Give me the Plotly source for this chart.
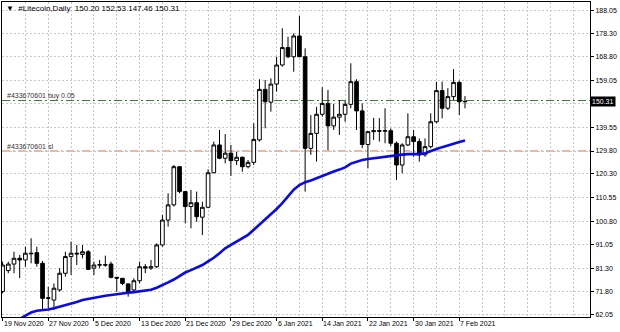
import pandas as pd
import plotly.graph_objects as go

symbol = "#Litecoin,Daily"
start = "2020-11-19"

opens = [71.6, 80.3, 83.0, 85.4, 84.7, 87.5, 87.7, 83.3, 68.8, 68.1,
         72.3, 79.2, 86.1, 87.5, 87.0, 88.1, 81.3, 82.6, 82.7, 83.0,
         77.5, 77.1, 74.8, 72.3, 76.1, 81.9, 81.3, 81.9, 90.9, 101.2,
         107.5, 123.3, 113.0, 106.8, 108.4, 102.4, 106.5, 120.8, 132.3, 126.8,
         128.9, 125.8, 127.2, 123.3, 125.1, 134.4, 155.3, 150.0, 157.5, 165.4,
         172.6, 168.8, 177.4, 168.8, 130.9, 137.1, 145.0, 149.5, 140.2, 143.8,
         145.0, 149.1, 158.5, 146.4, 132.5, 137.8, 138.2, 138.0, 138.2, 133.0,
         124.0, 132.3, 135.7, 133.7, 128.2, 131.6, 141.9, 154.8, 147.5, 152.3,
         158.2, 150.20]
highs = [84.0, 84.0, 88.1, 86.8, 90.2, 93.7, 90.2, 84.3, 73.6, 75.0,
         81.3, 88.1, 92.3, 90.9, 90.9, 88.8, 84.0, 84.7, 86.5, 84.0,
         77.6, 77.2, 75.0, 77.1, 84.0, 83.0, 84.7, 91.6, 103.3, 112.3,
         124.0, 123.6, 113.0, 113.7, 113.0, 108.8, 122.2, 133.7, 138.5, 136.8,
         132.3, 129.5, 127.5, 126.1, 141.3, 159.5, 159.2, 159.9, 168.8, 180.6,
         177.1, 178.5, 185.7, 172.3, 144.7, 148.1, 156.2, 155.1, 149.3, 150.9,
         150.5, 166.1, 159.5, 149.5, 137.9, 143.5, 143.4, 147.5, 139.2, 133.7,
         133.0, 145.4, 138.5, 135.0, 135.0, 145.4, 158.5, 158.5, 155.8, 163.7,
         158.9, 152.53]
lows = [70.9, 79.2, 79.2, 77.2, 81.9, 83.3, 81.9, 64.3, 64.7, 64.0,
        71.6, 77.8, 78.5, 82.6, 85.4, 80.6, 78.5, 81.3, 81.9, 77.1,
        71.6, 74.3, 69.5, 71.6, 75.0, 79.2, 80.6, 81.3, 90.2, 98.5,
        106.8, 112.3, 99.9, 97.8, 100.5, 95.0, 106.1, 120.6, 126.4, 124.7,
        119.5, 124.0, 121.2, 122.6, 124.0, 133.7, 139.2, 146.1, 154.4, 164.7,
        168.2, 162.6, 168.7, 113.0, 128.2, 125.4, 144.0, 130.2, 138.5, 136.4,
        141.9, 147.5, 138.5, 131.0, 122.6, 134.4, 133.7, 133.0, 131.8, 117.8,
        120.6, 131.8, 127.4, 125.4, 127.4, 130.9, 141.3, 143.3, 146.8, 150.9,
        144.7, 147.46]
closes = [82.6, 83.0, 85.4, 84.7, 87.5, 87.3, 83.3, 68.8, 69.0, 73.0,
          79.2, 86.1, 87.5, 87.2, 88.1, 80.8, 82.6, 82.7, 82.6, 77.5,
          77.2, 75.0, 71.2, 76.1, 81.9, 81.4, 81.9, 90.9, 101.2, 107.5,
          123.3, 113.0, 106.8, 108.4, 102.6, 106.5, 120.8, 132.3, 126.8, 128.9,
          125.8, 127.2, 123.3, 125.1, 134.6, 155.3, 150.2, 157.5, 165.4, 172.6,
          168.8, 177.4, 168.8, 130.9, 137.1, 145.0, 149.5, 140.2, 143.8, 145.0,
          149.1, 158.5, 146.4, 132.5, 137.8, 138.2, 138.0, 138.2, 133.0, 124.0,
          132.3, 135.7, 133.7, 128.2, 131.6, 141.9, 154.8, 147.5, 152.3, 158.2,
          150.2, 150.31]
ma_line = [None, None, None, 60.3, 61.7, 63.0, 63.7, 63.9, 64.2, 64.7,
           65.3, 65.9, 66.7, 67.3, 68.1, 68.6, 69.0, 69.5, 69.9, 70.2,
           70.6, 70.9, 71.1, 71.4, 71.7, 72.0, 72.4, 73.2, 74.2, 75.4,
           76.6, 78.0, 79.5, 80.5, 81.4, 82.6, 84.1, 85.6, 87.5, 89.5,
           90.9, 92.3, 93.7, 95.1, 97.2, 99.3, 101.5, 103.6, 105.8, 108.2,
           111.2, 113.8, 115.7, 116.9, 117.6, 118.6, 119.6, 120.5, 121.3, 122.1,
           123.0, 124.6, 125.4, 126.1, 126.5, 126.8, 127.3, 127.7, 127.9, 128.2,
           128.3, 128.5, 128.5, 128.5, 128.9, 129.6, 130.6, 131.4, 132.2, 132.9,
           133.5, 134.1]

ytick_vals = [188.05, 178.30, 168.80, 159.05, 149.30, 139.55, 129.80, 120.30,
              110.55, 100.80, 91.05, 81.30, 71.80, 62.05]
ytick_text = ["188.05", "178.30", "168.80", "159.05", "", "139.55", "129.80", "120.30",
              "110.55", "100.80", "91.05", "81.30", "71.80", "62.05"]
xlabel_text = ["19 Nov 2020", "27 Nov 2020", "5 Dec 2020", "13 Dec 2020", "21 Dec 2020",
               "29 Dec 2020", "6 Jan 2021", "14 Jan 2021", "22 Jan 2021", "30 Jan 2021",
               "7 Feb 2021"]

order_id = "#433670601"
buy_price = 150.7
sl_price = 129.8

dates = pd.date_range(start, periods=len(opens), freq="D")
xlabel_dates = pd.date_range(start, periods=len(xlabel_text), freq="8D")
x_start = pd.Timestamp(start) - pd.Timedelta(hours=2.4)
x_end = pd.Timestamp(start) + pd.Timedelta(days=102.9)

FONT = "Liberation Sans, Arial, sans-serif"
GRID = "#c8c8c8"

fig = go.Figure()
fig.add_trace(go.Candlestick(
    x=dates, open=opens, high=highs, low=lows, close=closes,
    increasing=dict(line=dict(color="black", width=1), fillcolor="white"),
    decreasing=dict(line=dict(color="black", width=1), fillcolor="black"),
    whiskerwidth=0, showlegend=False, hoverinfo="skip"))
fig.add_trace(go.Scatter(
    x=dates, y=ma_line, mode="lines", line=dict(color="#0a0ae6", width=2.6),
    showlegend=False, hoverinfo="skip"))

for price, color, label in [(buy_price, "#2f8a2f", f"{order_id} buy 0.05"),
                            (sl_price, "#dd6a2e", f"{order_id} sl")]:
    fig.add_shape(type="line", xref="paper", x0=0, x1=1, yref="y", y0=price, y1=price,
                  line=dict(color=color, width=1, dash="8px,3px,2px,3px"), layer="below")
    fig.add_annotation(xref="paper", x=0, xanchor="left", xshift=3, yref="y", y=price,
                       yanchor="bottom", yshift=-1, text=label, showarrow=False,
                       font=dict(family=FONT, size=7, color="#333333"))

for d, t in zip(xlabel_dates, xlabel_text):
    fig.add_annotation(xref="x", x=d, xanchor="left", xshift=-1, yref="paper", y=0,
                       yanchor="top", yshift=-1, text=t, showarrow=False,
                       font=dict(family=FONT, size=7, color="black"))

header = f"▼  {symbol}  {opens[-1]:.2f} {highs[-1]:.2f} {lows[-1]:.2f} {closes[-1]:.2f}"
fig.add_annotation(xref="paper", x=0, xanchor="left", xshift=2, yref="paper", y=1,
                   yanchor="top", yshift=0, text=header, showarrow=False,
                   font=dict(family=FONT, size=8, color="black"))

fig.add_annotation(xref="paper", x=1, xanchor="left", xshift=0, yref="y", y=closes[-1],
                   text=f"{closes[-1]:.2f}", showarrow=False, bgcolor="black",
                   borderpad=1, font=dict(family=FONT, size=7, color="white"))

fig.update_layout(
    width=620, height=332, margin=dict(l=2, r=30, t=2, b=15),
    plot_bgcolor="white", paper_bgcolor="white",
    boxgap=0.2, boxgroupgap=0.2,
    xaxis=dict(type="date", range=[x_start, x_end], rangeslider=dict(visible=False),
               tickmode="array", tickvals=list(xlabel_dates), showticklabels=False,
               ticks="outside", ticklen=3, tickcolor="black",
               showgrid=True, gridcolor=GRID, griddash="2px,2px", gridwidth=1,
               minor=dict(tick0=start, dtick=4 * 86400000, showgrid=True,
                          gridcolor=GRID, griddash="2px,2px", ticks=""),
               showline=True, linecolor="black", linewidth=1, mirror=True,
               zeroline=False),
    yaxis=dict(side="right", range=[61.09, 191.47], tickmode="array",
               tickvals=ytick_vals, ticktext=ytick_text, ticks="outside", ticklen=3,
               tickcolor="black", tickfont=dict(family=FONT, size=7, color="black"),
               showgrid=True, gridcolor=GRID, griddash="2px,2px", gridwidth=1,
               showline=True, linecolor="black", linewidth=1, mirror=True,
               zeroline=False),
)

fig.write_html("out.html")
